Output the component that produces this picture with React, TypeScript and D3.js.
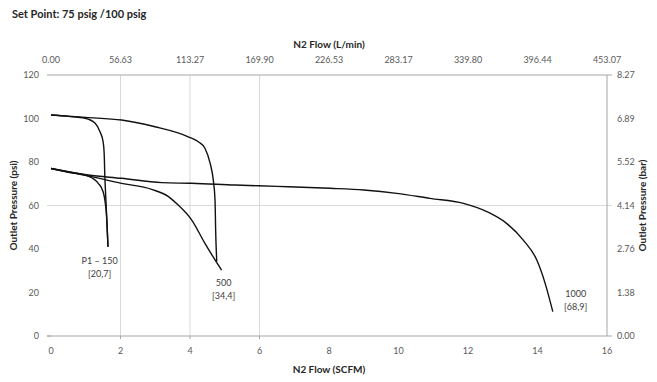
import React from "react";
import * as d3 from "d3";

const W = 657;
const H = 382;

const xTicks = [0, 2, 4, 6, 8, 10, 12, 14, 16];
const topTickLabels = ["0.00", "56.63", "113.27", "169.90", "226.53", "283.17", "339.80", "396.44", "453.07"];
const yTicks = [0, 20, 40, 60, 80, 100, 120];
const rightTickLabels = ["0.00", "1.38", "2.76", "4.14", "5.52", "6.89", "8.27"];
const gridX = [2, 4, 6];
const gridY = [60, 120];

const p150UpperX = [0, 0.5, 0.98, 1.27, 1.41, 1.5, 1.53, 1.55, 1.58, 1.61, 1.64];
const p150UpperY = [101.6, 101.0, 100.1, 97.8, 93.9, 89.3, 84, 73.2, 62.5, 52, 41];
const p150LowerX = [0, 0.5, 1.07, 1.36, 1.5, 1.55, 1.6, 1.64];
const p150LowerY = [77, 75.3, 73.5, 70.2, 66.3, 62.5, 54.9, 41];
const p500UpperX = [0, 1, 2.03, 2.99, 3.95, 4.24, 4.43, 4.58, 4.67, 4.72, 4.74, 4.77];
const p500UpperY = [101.6, 100.5, 99.3, 96.2, 91.6, 89.3, 86.3, 79.4, 71.7, 62.5, 47.4, 34.2];
const p500LowerX = [0, 1.07, 2.03, 2.9, 3.38, 3.66, 4.05, 4.43, 4.72, 4.91];
const p500LowerY = [77, 73.6, 70.2, 67.4, 64.1, 60.2, 53.3, 42.6, 35, 30.3];
const p1000X = [0, 1.07, 2.03, 3.19, 4.05, 5.3, 6.5, 8.03, 9.0, 9.95, 10.9, 11.87, 12.54, 13.11, 13.59, 13.98, 14.22, 14.44];
const p1000Y = [77, 74, 72.5, 70.5, 70.2, 69.4, 68.8, 67.9, 67.1, 65.6, 63.3, 61, 57.2, 51.8, 44.1, 34.9, 24.2, 11.2];

const seriesList = [
  { x: p150UpperX, y: p150UpperY },
  { x: p150LowerX, y: p150LowerY },
  { x: p500UpperX, y: p500UpperY },
  { x: p500LowerX, y: p500LowerY },
  { x: p1000X, y: p1000Y },
];

const annotations = [
  { x: 1.4, y: 33, lines: ["P1 \u2013 150", "[20,7]"] },
  { x: 4.97, y: 23, lines: ["500", "[34,4]"] },
  { x: 15.1, y: 18, lines: ["1000", "[68,9]"] },
];

const FONT = "Lato, 'Open Sans', sans-serif";
const LABEL = "#595959";
const AXIS = "#a6a6a6";
const GRID = "#d9d9d9";

export default function App() {
  const left = 51, right = 607, top = 75, bottom = 336;
  const x = d3.scaleLinear().domain([0, 16]).range([left, right]);
  const y = d3.scaleLinear().domain([0, 120]).range([bottom, top]);
  const line = d3
    .line<[number, number]>()
    .x((d) => x(d[0]))
    .y((d) => y(d[1]))
    .curve(d3.curveMonotoneX);

  return (
    <svg width={W} height={H} style={{ position: "absolute", left: 0, top: 0, background: "#fff" }} fontFamily={FONT}>
      <text x={12} y={18} fontSize={11} fontWeight="bold" fill="#262626">Set Point: 75 psig /100 psig</text>

      {/* gridlines */}
      {gridX.map((v) => (
        <line key={"gx" + v} x1={x(v)} x2={x(v)} y1={top} y2={bottom} stroke={GRID} strokeWidth={1} />
      ))}
      {gridY.map((v) => (
        <line key={"gy" + v} x1={left - 4} x2={right + 5} y1={y(v)} y2={y(v)} stroke={v === 120 ? AXIS : GRID} strokeWidth={1} />
      ))}

      {/* axes */}
      <line x1={left - 4} x2={right + 5} y1={bottom} y2={bottom} stroke={AXIS} strokeWidth={1} />
      <line x1={right} x2={right} y1={top} y2={bottom} stroke={AXIS} strokeWidth={1} />
      <line x1={left - 4} x2={left} y1={bottom} y2={bottom} stroke={AXIS} />
      {gridX.map((v) => (
        <line key={"bt" + v} x1={x(v)} x2={x(v)} y1={bottom} y2={bottom + 3} stroke={AXIS} />
      ))}

      {/* bottom tick labels */}
      {xTicks.map((v) => (
        <text key={"bx" + v} x={x(v)} y={354} fontSize={9} fill={LABEL} textAnchor="middle">{v}</text>
      ))}
      {/* top tick labels */}
      {xTicks.map((v, i) => (
        <text key={"tx" + v} x={x(v)} y={63} fontSize={9} fill={LABEL} textAnchor="middle">{topTickLabels[i]}</text>
      ))}
      {/* left tick labels */}
      {yTicks.map((v) => (
        <text key={"ly" + v} x={39} y={y(v) + 3} fontSize={9} fill={LABEL} textAnchor="end">{v}</text>
      ))}
      {/* right tick labels */}
      {yTicks.map((v, i) => (
        <text key={"ry" + v} x={617} y={y(v) + 3} fontSize={9} fill={LABEL} textAnchor="start">{rightTickLabels[i]}</text>
      ))}

      {/* axis titles */}
      <text x={(left + right) / 2} y={48} fontSize={10} fontWeight="bold" fill="#262626" textAnchor="middle">N2 Flow (L/min)</text>
      <text x={(left + right) / 2} y={373} fontSize={10} fontWeight="bold" fill="#262626" textAnchor="middle">N2 Flow (SCFM)</text>
      <text transform={`translate(17,${(top + bottom) / 2}) rotate(-90)`} fontSize={10} fontWeight="bold" fill="#262626" textAnchor="middle">Outlet Pressure (psi)</text>
      <text transform={`translate(646,${(top + bottom) / 2}) rotate(-90)`} fontSize={10} fontWeight="bold" fill="#262626" textAnchor="middle">Outlet Pressure (bar)</text>

      {/* series */}
      {seriesList.map((s, i) => (
        <path
          key={"s" + i}
          d={line(s.x.map((v, j) => [v, s.y[j]] as [number, number])) || ""}
          fill="none"
          stroke="#111"
          strokeWidth={1.4}
        />
      ))}

      {/* annotations */}
      {annotations.map((a, i) => (
        <text key={"a" + i} x={x(a.x)} y={y(a.y)} fontSize={9} fill="#404040" textAnchor="middle">
          {a.lines.map((t, k) => (
            <tspan key={k} x={x(a.x)} dy={k === 0 ? 0 : 13}>{t}</tspan>
          ))}
        </text>
      ))}
    </svg>
  );
}
